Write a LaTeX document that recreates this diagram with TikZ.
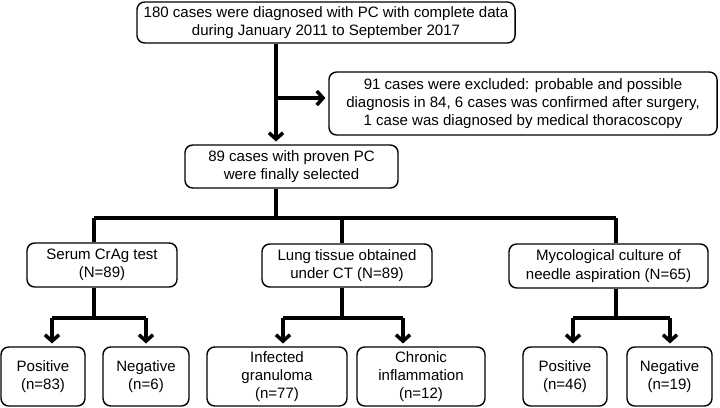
\documentclass[tikz,border=0pt]{standalone}
\usepackage{fontspec}
\setmainfont{Liberation Sans}
\usetikzlibrary{arrows.meta, positioning}

\begin{document}
\begin{tikzpicture}[
    x=0.025cm, y=-0.025cm,
    box/.style={rectangle, draw, rounded corners=5.5pt, line width=1pt, align=center, inner sep=2pt, font=\fontsize{10.7}{13}\selectfont},
    link/.style={line width=2.5pt},
    arrow/.style={link, -{Straight Barb[length=4.5pt,width=10pt]}, shorten >=2pt}
]
\useasboundingbox (0,0) rectangle (720,407);

\node[box, minimum width=9.45cm, minimum height=1.025cm] (diagnosed) at (326,22.5) {180 cases were diagnosed with PC with complete data\\during January 2011 to September 2017};
\node[box, minimum width=9.7cm, minimum height=1.575cm] (excluded) at (523,103.5) {91 cases were excluded: probable and possible\\diagnosis in 84, 6 cases was confirmed after surgery,\\1 case was diagnosed by medical thoracoscopy};
\node[box, minimum width=5.325cm, minimum height=1.075cm] (selected) at (291.5,166.5) {89 cases with proven PC\\were finally selected};

\node[box, minimum width=3.75cm, minimum height=1.1cm] (serum) at (102,265) {Serum CrAg test\\(N=89)};
\node[box, minimum width=4.25cm, minimum height=1.075cm] (lung) at (347,265.5) {Lung tissue obtained\\under CT (N=89)};
\node[box, minimum width=4.975cm, minimum height=1.1cm] (culture) at (608.5,266) {Mycological culture of\\needle aspiration (N=65)};

\node[box, minimum width=2.1cm, minimum height=1.475cm] (serumPos) at (43,376.5) {Positive\\(n=83)};
\node[box, minimum width=2.15cm, minimum height=1.475cm] (serumNeg) at (146,376.5) {Negative\\(n=6)};
\node[box, minimum width=3.5cm, minimum height=1.475cm] (granuloma) at (277,376.5) {Infected\\granuloma\\(n=77)};
\node[box, minimum width=3.2cm, minimum height=1.475cm] (inflammation) at (421,376.5) {Chronic\\inflammation\\(n=12)};
\node[box, minimum width=2.1cm, minimum height=1.475cm] (culturePos) at (565,376.5) {Positive\\(n=46)};
\node[box, minimum width=2.125cm, minimum height=1.475cm] (cultureNeg) at (669.5,376.5) {Negative\\(n=19)};

% trunk
\coordinate (trunk) at (276,98);
\coordinate (serumTap) at (94,218);
\coordinate (mainTap) at (276,218);
\coordinate (lungTap) at (342,218);
\coordinate (cultureTap) at (616,218);

\draw[arrow] (diagnosed.south -| trunk) -- (selected.north -| trunk);
\draw[arrow] (trunk) -- (trunk -| excluded.west);
\draw[link] (selected.south -| mainTap) -- (mainTap);
\draw[link] (serumTap) -- (cultureTap);
\draw[link] (serumTap) -- (serumTap |- serum.north);
\draw[link] (lungTap) -- (lungTap |- lung.north);
\draw[link] (cultureTap) -- (cultureTap |- culture.north);

% second split
\coordinate (serumPosTap) at (52,318);
\coordinate (serumNegTap) at (146,318);
\coordinate (granulomaTap) at (283,318);
\coordinate (inflammationTap) at (403,318);
\coordinate (culturePosTap) at (573,318);
\coordinate (cultureNegTap) at (670,318);

\draw[link] (serum.south -| serumTap) -- (serumTap |- serumPosTap);
\draw[link] (lung.south -| lungTap) -- (lungTap |- granulomaTap);
\draw[link] (culture.south -| cultureTap) -- (cultureTap |- culturePosTap);
\draw[link] (serumPosTap) -- (serumNegTap);
\draw[link] (granulomaTap) -- (inflammationTap);
\draw[link] (culturePosTap) -- (cultureNegTap);

\draw[arrow] (serumPosTap) -- (serumPosTap |- serumPos.north);
\draw[arrow] (serumNegTap) -- (serumNegTap |- serumNeg.north);
\draw[arrow] (granulomaTap) -- (granulomaTap |- granuloma.north);
\draw[arrow] (inflammationTap) -- (inflammationTap |- inflammation.north);
\draw[arrow] (culturePosTap) -- (culturePosTap |- culturePos.north);
\draw[arrow] (cultureNegTap) -- (cultureNegTap |- cultureNeg.north);

\end{tikzpicture}
\end{document}
